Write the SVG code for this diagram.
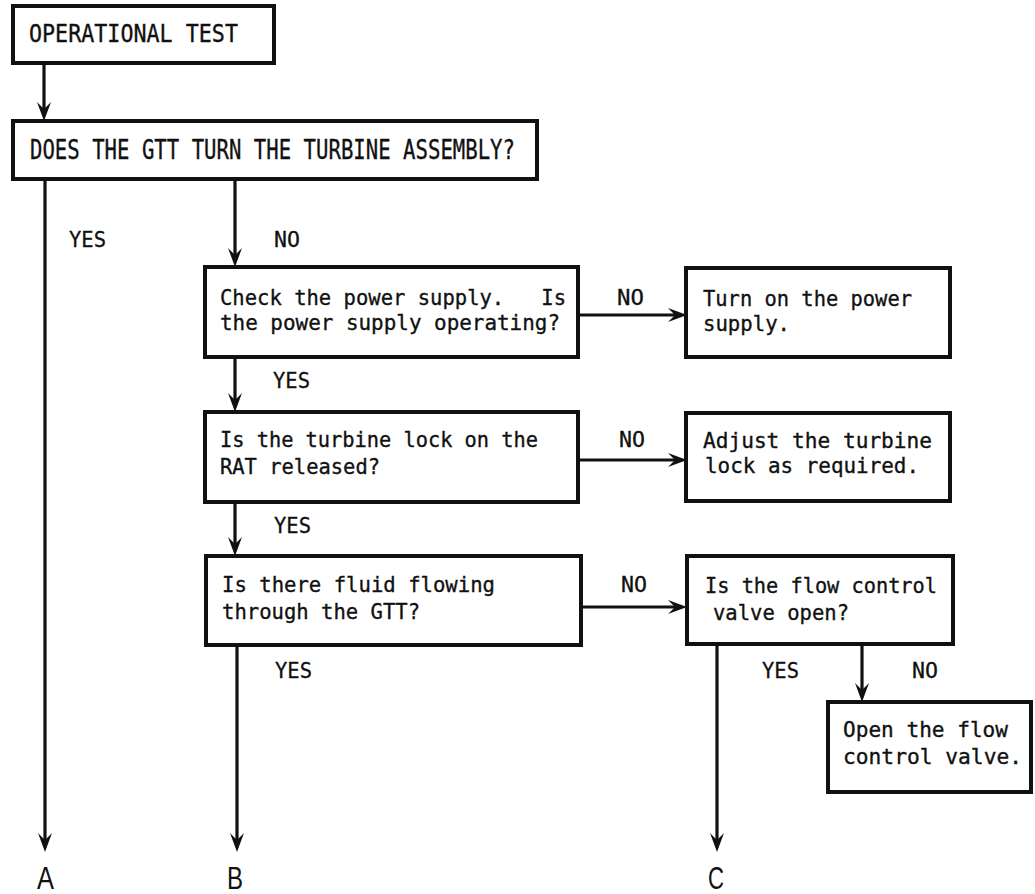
<svg xmlns="http://www.w3.org/2000/svg" width="1035" height="894" viewBox="0 0 1035 894">
<style>
.box{fill:#fff;stroke:#111;stroke-width:4}
.ln{fill:none;stroke:#111;stroke-width:3.2;marker-end:url(#ah)}
.t{font-family:"DejaVu Sans Mono","Liberation Mono",monospace;font-size:22px;fill:#111;stroke:#111;stroke-width:0.35;white-space:pre}
.lab{font-family:"DejaVu Sans Mono","Liberation Mono",monospace;font-size:22px;fill:#111;stroke:#111;stroke-width:0.3}
.big{font-family:"Liberation Sans","DejaVu Sans",sans-serif;font-size:31px;fill:#111}
</style>
<defs>
<marker id="ah" markerUnits="userSpaceOnUse" markerWidth="24" markerHeight="24" refX="0" refY="0" orient="auto" overflow="visible">
<path d="M8,0 L-11,-7 L-4,0 L-11,7 Z" fill="#111"/>
</marker>
</defs>
<rect width="1035" height="894" fill="#fff"/>
<g id="connectors">
<path class="ln" d="M44,63 V113"/>
<path class="ln" d="M45,179 V844"/>
<path class="ln" d="M235,179 V259"/>
<path class="ln" d="M578,315 H679"/>
<path class="ln" d="M235,357 V404"/>
<path class="ln" d="M578,460 H679"/>
<path class="ln" d="M235,502 V548"/>
<path class="ln" d="M581,607 H679"/>
<path class="ln" d="M237,645 V844"/>
<path class="ln" d="M717,644 V844"/>
<path class="ln" d="M862,644 V694"/>
</g>
<g id="labels">
<text class="lab" x="69" y="247" textLength="37" lengthAdjust="spacingAndGlyphs">YES</text>
<text class="lab" x="274" y="247" textLength="26" lengthAdjust="spacingAndGlyphs">NO</text>
<text class="lab" x="617" y="305" textLength="27" lengthAdjust="spacingAndGlyphs">NO</text>
<text class="lab" x="273" y="388" textLength="37" lengthAdjust="spacingAndGlyphs">YES</text>
<text class="lab" x="619" y="447" textLength="26" lengthAdjust="spacingAndGlyphs">NO</text>
<text class="lab" x="274" y="533" textLength="37" lengthAdjust="spacingAndGlyphs">YES</text>
<text class="lab" x="621" y="592" textLength="26" lengthAdjust="spacingAndGlyphs">NO</text>
<text class="lab" x="275" y="678" textLength="37" lengthAdjust="spacingAndGlyphs">YES</text>
<text class="lab" x="762" y="678" textLength="37" lengthAdjust="spacingAndGlyphs">YES</text>
<text class="lab" x="912" y="678" textLength="26" lengthAdjust="spacingAndGlyphs">NO</text>
</g>
<g id="term-A"><text class="big" x="37" y="889" textLength="17" lengthAdjust="spacingAndGlyphs">A</text></g>
<g id="term-B"><text class="big" x="227" y="889" textLength="16" lengthAdjust="spacingAndGlyphs">B</text></g>
<g id="term-C"><text class="big" x="708" y="889" textLength="16" lengthAdjust="spacingAndGlyphs">C</text></g>
<g id="n1">
<rect class="box" x="13" y="6" width="261" height="57"/>
<text class="t" x="29" y="42" style="font-size:25px" textLength="209" lengthAdjust="spacingAndGlyphs">OPERATIONAL TEST</text>
</g>
<g id="n2">
<rect class="box" x="13" y="121" width="524" height="58"/>
<text class="t" x="30" y="159" style="font-size:27px" textLength="485" lengthAdjust="spacingAndGlyphs">DOES THE GTT TURN THE TURBINE ASSEMBLY?</text>
</g>
<g id="n3">
<rect class="box" x="205" y="267" width="373" height="90"/>
<text class="t" x="220" y="305" textLength="346" lengthAdjust="spacingAndGlyphs">Check the power supply.   Is</text>
<text class="t" x="220" y="330" textLength="340" lengthAdjust="spacingAndGlyphs">the power supply operating?</text>
</g>
<g id="n4">
<rect class="box" x="686" y="268" width="264" height="89"/>
<text class="t" x="703" y="306" textLength="209" lengthAdjust="spacingAndGlyphs">Turn on the power</text>
<text class="t" x="703" y="331" textLength="87" lengthAdjust="spacingAndGlyphs">supply.</text>
</g>
<g id="n5">
<rect class="box" x="205" y="412" width="373" height="90"/>
<text class="t" x="220" y="447" textLength="318" lengthAdjust="spacingAndGlyphs">Is the turbine lock on the</text>
<text class="t" x="220" y="474" textLength="160" lengthAdjust="spacingAndGlyphs">RAT released?</text>
</g>
<g id="n6">
<rect class="box" x="686" y="413" width="264" height="88"/>
<text class="t" x="703" y="448" textLength="229" lengthAdjust="spacingAndGlyphs">Adjust the turbine</text>
<text class="t" x="705" y="473" textLength="214" lengthAdjust="spacingAndGlyphs">lock as required.</text>
</g>
<g id="n7">
<rect class="box" x="206" y="556" width="375" height="89"/>
<text class="t" x="222" y="592" textLength="273" lengthAdjust="spacingAndGlyphs">Is there fluid flowing</text>
<text class="t" x="222" y="619" textLength="198" lengthAdjust="spacingAndGlyphs">through the GTT?</text>
</g>
<g id="n8">
<rect class="box" x="687" y="556" width="266" height="88"/>
<text class="t" x="705" y="593" textLength="232" lengthAdjust="spacingAndGlyphs">Is the flow control</text>
<text class="t" x="713" y="620" textLength="136" lengthAdjust="spacingAndGlyphs">valve open?</text>
</g>
<g id="n9">
<rect class="box" x="828" y="702" width="203" height="90"/>
<text class="t" x="843" y="737" textLength="165" lengthAdjust="spacingAndGlyphs">Open the flow</text>
<text class="t" x="843" y="764" textLength="179" lengthAdjust="spacingAndGlyphs">control valve.</text>
</g>
</svg>
